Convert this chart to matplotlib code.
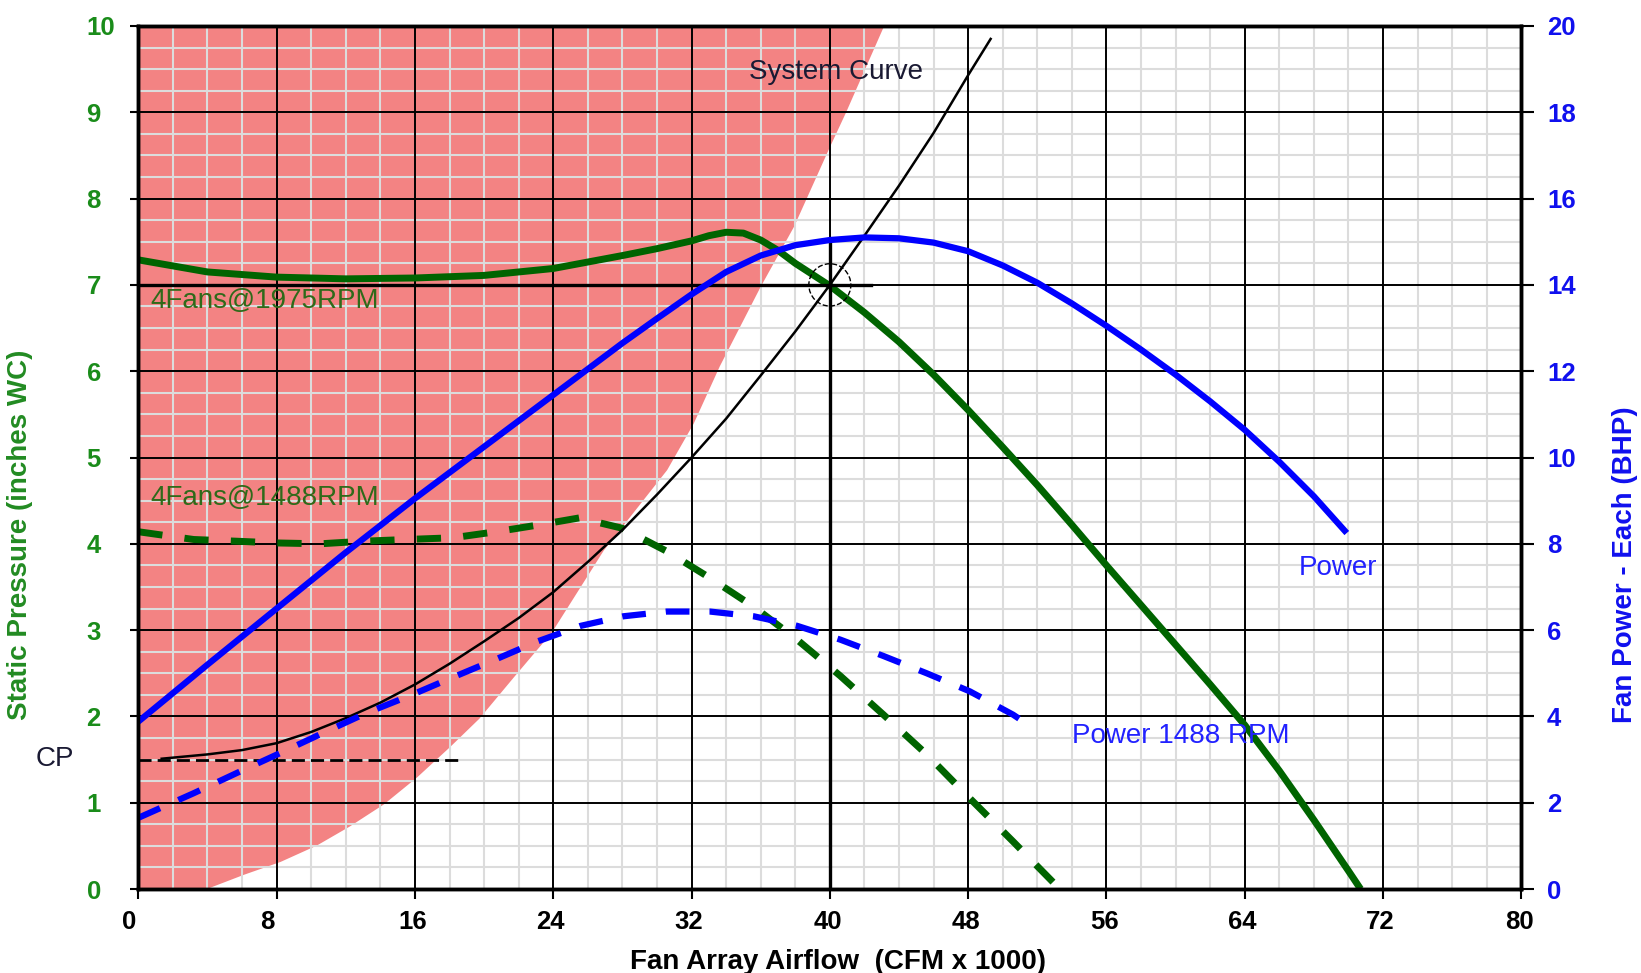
import matplotlib
matplotlib.use("Agg")
import matplotlib.pyplot as plt
from matplotlib.patches import Ellipse
from matplotlib.transforms import ScaledTranslation
import numpy as np

plt.rcParams["font.family"] = ["Liberation Sans", "DejaVu Sans"]

# fan curve 4 fans @ 1975 rpm (static pressure, in WC)
fan1975_x = [0, 4, 8, 12, 16, 20, 24, 28, 30, 32, 33, 34, 35, 36, 37, 38, 39, 40, 42, 44, 46, 48,
             50, 52, 54, 56, 58, 60, 62, 64, 66, 68, 70, 70.7]
fan1975_y = [7.29, 7.15, 7.09, 7.07, 7.08, 7.11, 7.19, 7.34, 7.42, 7.51, 7.57, 7.61, 7.6, 7.52, 7.4,
             7.25, 7.12, 6.99, 6.68, 6.34, 5.96, 5.55, 5.12, 4.68, 4.22, 3.75, 3.29, 2.83, 2.37,
             1.9, 1.37, 0.8, 0.21, 0.0]

# fan curve 4 fans @ 1488 rpm
fan1488_x = [0, 3.2, 5.7, 8.0, 10.5, 13.0, 15.5, 18.2, 20.7, 23.2, 25.5, 28.0, 30.6, 33.1, 35.6,
             38.1, 40.6, 43.1, 45.6, 48.1, 50.6, 53.3]
fan1488_y = [4.14, 4.05, 4.03, 4.01, 4.0, 4.03, 4.05, 4.07, 4.14, 4.22, 4.30, 4.18, 3.91, 3.60, 3.27,
             2.89, 2.47, 2.02, 1.56, 1.05, 0.55, 0.0]

# fan power each (BHP)
power_x = [0, 4, 8, 12, 16, 20, 24, 28, 30, 32, 34, 36, 38, 40, 42, 44, 46, 48, 50, 52, 54, 56,
           58, 60, 62, 64, 66, 68, 69.9]
power_y = [3.88, 5.2, 6.5, 7.8, 9.05, 10.25, 11.45, 12.65, 13.22, 13.78, 14.3, 14.68, 14.92, 15.04,
           15.1, 15.08, 14.98, 14.78, 14.45, 14.05, 13.57, 13.05, 12.5, 11.92, 11.3, 10.64, 9.9,
           9.1, 8.25]

power1488_x = [0, 3.2, 5.7, 8.2, 10.7, 13.2, 15.7, 18.1, 20.6, 23.1, 25.6, 28.05, 30.56, 33.07,
               35.6, 38.1, 40.6, 43.1, 45.6, 48.1, 50.6, 51.2]
power1488_y = [1.65, 2.22, 2.69, 3.15, 3.62, 4.08, 4.48, 4.89, 5.31, 5.74, 6.1, 6.32, 6.43, 6.43,
               6.32, 6.1, 5.78, 5.4, 5.0, 4.58, 4.04, 3.88]

# system curve
sys_x = [1.35, 4, 6, 8, 10, 12, 14, 16, 18, 20, 22, 24, 26, 28, 30, 32, 34, 36, 38, 40, 42, 44,
         46, 48, 49.3]
sys_y = [1.51, 1.56, 1.61, 1.69, 1.82, 1.98, 2.16, 2.37, 2.61, 2.87, 3.14, 3.44, 3.79, 4.16, 4.57,
         5.0, 5.45, 5.95, 6.46, 7.0, 7.57, 8.15, 8.76, 9.43, 9.85]

# surge / unstable region boundary
surge_y = [0, 0.17, 0.32, 0.51, 0.73, 0.99, 1.30, 1.65, 1.98, 2.46, 2.98, 3.93, 4.86, 5.40, 6.06,
           6.98, 7.68, 8.57, 9.0, 10.0]
surge_x = [3.86, 6.07, 8.2, 10.3, 12.2, 14.2, 16.1, 18.0, 19.7, 21.7, 23.9, 26.9, 30.56, 32.1, 33.6,
           35.96, 37.9, 39.9, 40.9, 43.1]

cp_x = [0, 18.7]
cp_y = [1.5, 1.5]
op_x, op_y = 40, 7

green = "#006400"
blue = "#0000ff"
tick_green = "#1a8c1a"
text_green = "#2f6a1a"

fig = plt.figure(figsize=(16.41, 9.73), dpi=100)
ax = fig.add_axes([0.0843, 0.0863, 0.8428, 0.887])

ax.fill_betweenx(surge_y, 0, surge_x, color="#f38383", lw=0, zorder=0.5)

ax.set_xlim(0, 80)
ax.set_ylim(0, 10)
ax.set_xticks(np.arange(0, 81, 8))
ax.set_xticks(np.arange(0, 81, 2), minor=True)
ax.set_yticks(np.arange(0, 11, 1))
ax.set_yticks(np.arange(0, 10.01, 0.25), minor=True)
ax.grid(which="minor", color="#dcdcdc", lw=1.5)
# major grid drawn on top of the minor one
for xv in np.arange(0, 81, 8):
    ax.axvline(xv, color="black", lw=1.4, zorder=1.6)
for yv in np.arange(0, 11, 1):
    ax.axhline(yv, color="black", lw=1.4, zorder=1.6)

ax.plot(fan1975_x, fan1975_y, color=green, lw=5, solid_capstyle="butt")
ax.plot(fan1488_x, fan1488_y, color=green, lw=5, dashes=(3.5, 3.2))
ax.plot(sys_x, sys_y, color="black", lw=1.8)
ax.plot(cp_x, cp_y, color="black", lw=2, dashes=(4.7, 2.2))

# operating point
ax.plot([0, 42.4], [op_y, op_y], color="black", lw=2.4)
ax.plot([op_x, op_x], [0, 7.49], color="black", lw=2.4)
ax.add_patch(Ellipse((op_x, op_y), 2.43, 0.49, fill=False, ls="--", lw=1, color="black", zorder=3))

ax.text(0.68, 6.73, "4Fans@1975RPM", color=text_green, fontsize=20)
ax.text(0.68, 4.45, "4Fans@1488RPM", color=text_green, fontsize=20)
ax.text(35.3, 9.38, "System Curve", color="#1a1a33", fontsize=20)
ax.text(67.1, 3.64, "Power", color="#2222ff", fontsize=20)
ax.text(54.0, 1.69, "Power 1488 RPM", color="#2222ff", fontsize=20)
ax.text(-5.97, 1.42, "CP", color="#1a1a33", fontsize=20, clip_on=False)

for s in ax.spines.values():
    s.set_linewidth(2.5)

ax.tick_params(which="minor", length=0)
ax.tick_params(axis="y", which="major", length=6, width=1.5, pad=31.3, labelsize=18.5, labelcolor=tick_green)
ax.tick_params(axis="x", which="major", length=7.2, width=1.5, pad=8, labelsize=18.5, labelcolor="black")
for lbl in ax.get_yticklabels():
    lbl.set_fontweight("bold")
    lbl.set_horizontalalignment("left")
shift = ScaledTranslation(-0.167, 0, fig.dpi_scale_trans)
for lbl in ax.get_xticklabels():
    lbl.set_fontweight("bold")
    lbl.set_horizontalalignment("left")
    lbl.set_transform(lbl.get_transform() + shift)

ax.set_xlabel("Fan Array Airflow  (CFM x 1000)", fontsize=20, fontweight="bold", color="black")
ax.xaxis.set_label_coords(0.506, -0.069)
ax.set_ylabel("Static Pressure (inches WC)", fontsize=20, fontweight="bold", color="#228b22")
ax.yaxis.set_label_coords(-0.0761, 0.41)

ax2 = ax.twinx()
ax2.set_ylim(0, 20)
ax2.set_yticks(np.arange(0, 21, 2))
ax2.plot(power_x, power_y, color=blue, lw=4.5, solid_capstyle="butt")
ax2.plot(power1488_x, power1488_y, color=blue, lw=4.5, dashes=(3.8, 3.2))
ax2.tick_params(axis="y", length=9.4, width=1.5, pad=9, labelsize=18.5, labelcolor="#1010ee")
for lbl in ax2.get_yticklabels():
    lbl.set_fontweight("bold")
for s in ax2.spines.values():
    s.set_linewidth(2.5)
ax2.set_ylabel("Fan Power - Each (BHP)", fontsize=20, fontweight="bold", color="#1010ee")
ax2.yaxis.set_label_coords(1.0656, 0.376)

fig.savefig("out.png", dpi=100)
